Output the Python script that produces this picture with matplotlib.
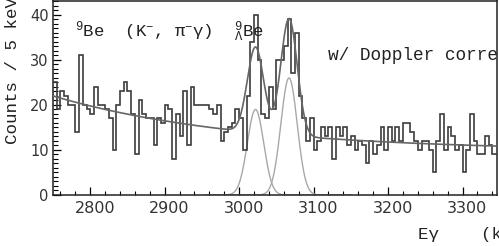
import numpy as np
import matplotlib
matplotlib.use("Agg")
import matplotlib.pyplot as plt
from matplotlib.ticker import MultipleLocator
from matplotlib.transforms import ScaledTranslation

# histogram: counts per 5 keV bin, first bin starts at 2750 keV
bin_start = 2750
bin_width = 5
counts = [
    25, 19, 23, 22, 20, 20, 14, 31, 20, 19,
    18, 24, 20, 20, 19, 17, 10, 20, 23, 25,
    23, 18, 9, 21, 18, 17, 17, 11, 17, 16,
    20, 19, 8, 18, 13, 23, 11, 24, 20, 20,
    20, 20, 19, 18, 20, 12, 14, 15, 16, 19,
    17, 10, 22, 34, 40, 30, 18, 17, 24, 19,
    30, 30, 33, 39, 27, 36, 22, 17, 12, 17,
    10, 12, 15, 13, 15, 8, 15, 13, 15, 11,
    13, 10, 12, 11, 7, 12, 9, 11, 15, 10,
    15, 12, 15, 12, 16, 16, 14, 12, 10, 12,
    12, 10, 5, 12, 18, 10, 15, 13, 10, 11,
    5, 10, 18, 12, 9, 9, 13, 11, 9, 9,
]

# fit: exponential background + two gaussian peaks
bg_const = 9.74
bg_amp = 12.26
bg_decay = 250.0
peak_centers = [3022, 3067]
peak_heights = [19, 26]
peak_sigmas = [11, 11]

x_range = (2750, 3347)
y_range = (0, 43.2)

plt.rcParams["mathtext.fontset"] = "custom"
plt.rcParams["mathtext.rm"] = "Liberation Mono"
plt.rcParams["mathtext.it"] = "Liberation Mono"
plt.rcParams["mathtext.bf"] = "Liberation Mono"


def background(e):
    return bg_const + bg_amp * np.exp(-(e - bin_start) / bg_decay)


def gauss(e, c, h, s):
    return h * np.exp(-0.5 * ((e - c) / s) ** 2)


fig = plt.figure(figsize=(4.99, 2.46), dpi=100)
ax = fig.add_axes([53 / 499, 51 / 246, (497.5 - 53) / 499, 194.5 / 246])

edges = bin_start + bin_width * np.arange(len(counts) + 1)
ax.stairs(counts, edges, baseline=None, color="#3c3c3c", lw=1.2, zorder=3)

e = np.linspace(x_range[0], x_range[1], 1200)
total = background(e)
for c, h, s in zip(peak_centers, peak_heights, peak_sigmas):
    total = total + gauss(e, c, h, s)
ax.plot(e, total, color="#666666", lw=1.2, zorder=4)

e_pk = np.linspace(2955, 3150, 400)
for c, h, s in zip(peak_centers, peak_heights, peak_sigmas):
    ax.plot(e_pk, gauss(e_pk, c, h, s), color="#a8a8a8", lw=1.0, zorder=2)

ax.set_xlim(*x_range)
ax.set_ylim(*y_range)

ax.xaxis.set_major_locator(MultipleLocator(100))
ax.xaxis.set_minor_locator(MultipleLocator(20))
ax.yaxis.set_major_locator(MultipleLocator(10))
ax.yaxis.set_minor_locator(MultipleLocator(1))
ax.tick_params(axis="x", which="major", direction="in", length=5.5, width=0.9,
               labelsize=11.5, pad=4.5, labelcolor="#333333")
ax.tick_params(axis="x", which="minor", direction="in", length=3, width=0.8)
ax.tick_params(axis="y", which="major", direction="in", length=6, width=0.9,
               labelsize=10.5, pad=3, labelcolor="#333333")
ax.tick_params(axis="y", which="minor", direction="in", length=3.5, width=0.8)
for sp in ax.spines.values():
    sp.set_linewidth(1.1)
    sp.set_color("#222222")

# ROOT-style labels sit a bit right of the ticks
shift = ScaledTranslation(4.5 / 100, 0, fig.dpi_scale_trans)
for lab in ax.get_xticklabels():
    lab.set_transform(lab.get_transform() + shift)

mono = "Liberation Mono"
ax.text(2780, 35.1, r"$^{9}$Be  (K$^{-}$, π$^{-}$γ)  $^{9}_{\Lambda}$Be",
        family=mono, fontsize=12.5, color="#222222", va="baseline", ha="left")
ax.text(3119.5, 30, "w/ Doppler correction", family=mono, fontsize=12.8,
        color="#222222", va="baseline", ha="left", clip_on=False)

fig.text(13 / 499, 1 - 71 / 246, "Counts / 5 keV", family=mono, fontsize=12.6,
         rotation=90, ha="center", va="center", color="#222222")
fig.text(418 / 499, 7 / 246, "Eγ    (keV)", family=mono, fontsize=12.6,
         ha="left", va="baseline", color="#222222")

fig.savefig("out.png", dpi=100)
